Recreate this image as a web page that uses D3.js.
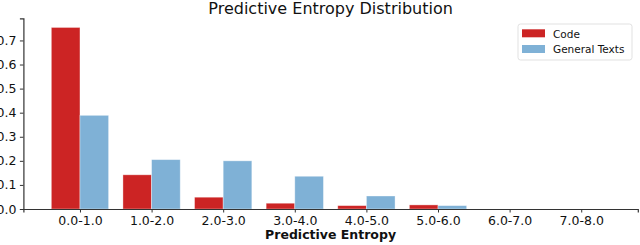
<!DOCTYPE html>
<html>
<head>
<meta charset="utf-8">
<script src="https://cdn.jsdelivr.net/npm/d3@7"></script>
<style>
  html, body { margin: 0; padding: 0; background: #fff; }
  svg { display: block; font-family: "DejaVu Sans", sans-serif; }
  .axis path, .axis line { stroke: #333; }
  .axis text { fill: #111; }
</style>
</head>
<body>
<svg id="plot"></svg>
<script>
var width = 640;
var height = 245;

var bins = ["0.0-1.0", "1.0-2.0", "2.0-3.0", "3.0-4.0", "4.0-5.0", "5.0-6.0", "6.0-7.0", "7.0-8.0"];
var codeValues = [0.754, 0.142, 0.049, 0.024, 0.014, 0.017, 0, 0];
var textValues = [0.389, 0.205, 0.200, 0.136, 0.054, 0.014, 0, 0];
var yTicks = [0, 0.1, 0.2, 0.3, 0.4, 0.5, 0.6, 0.7];
var seriesNames = ["Code", "General Texts"];
var colors = ["#cc2424", "#7fb1d6"];

var plotLeft = 23.4, plotRight = 637.8, plotTop = 18.3, plotBottom = 209;
var barW = 0.4;

var svg = d3.select("#plot")
    .attr("width", width)
    .attr("height", height);

var xScale = d3.scaleLinear()
    .domain([-0.79, bins.length - 1 + 0.79])
    .range([plotLeft, plotRight]);
var yScale = d3.scaleLinear()
    .domain([0, 0.792])
    .range([plotBottom, plotTop]);

var series = [codeValues, textValues];
series.forEach(function (vals, s) {
    svg.append("g")
        .selectAll("rect")
        .data(vals)
        .enter()
        .append("rect")
        .attr("x", function (d, i) { return xScale(i + (s - 1) * barW); })
        .attr("y", function (d) { return yScale(d); })
        .attr("width", function () { return xScale(barW) - xScale(0); })
        .attr("height", function (d) { return yScale(0) - yScale(d); })
        .attr("fill", colors[s])
        .attr("stroke", "rgba(255,255,255,0.45)")
        .attr("stroke-width", 0.8);
});

var xAxis = svg.append("g")
    .attr("class", "axis")
    .attr("transform", "translate(0," + plotBottom + ")")
    .call(d3.axisBottom(xScale)
        .tickValues(d3.range(bins.length))
        .tickFormat(function (d) { return bins[d]; })
        .tickSizeOuter(0)
        .tickSize(3.5)
        .tickPadding(3.5))
    .attr("font-family", "DejaVu Sans")
    .attr("font-size", 12.5);
xAxis.select(".domain").attr("stroke-width", 1.2);

var yAxis = svg.append("g")
    .attr("class", "axis")
    .attr("transform", "translate(" + plotLeft + ",0)")
    .call(d3.axisLeft(yScale)
        .tickValues(yTicks)
        .tickFormat(d3.format(".1f"))
        .tickSizeOuter(0)
        .tickSize(3.5)
        .tickPadding(3.5))
    .attr("font-family", "DejaVu Sans")
    .attr("font-size", 12.5);
yAxis.select(".domain").attr("stroke-width", 1.2);

svg.append("text")
    .attr("x", (plotLeft + plotRight) / 2)
    .attr("y", 13.5)
    .attr("text-anchor", "middle")
    .attr("font-size", "16px")
    .attr("fill", "#111")
    .text("Predictive Entropy Distribution");

svg.append("text")
    .attr("x", (plotLeft + plotRight) / 2)
    .attr("y", 239)
    .attr("text-anchor", "middle")
    .attr("font-size", "12.5px")
    .attr("font-weight", "bold")
    .attr("fill", "#111")
    .text("Predictive Entropy");

// legend
var legend = svg.append("g").attr("transform", "translate(518,24)");
legend.append("rect")
    .attr("width", 114)
    .attr("height", 36)
    .attr("rx", 2.5)
    .attr("fill", "#fff")
    .attr("stroke", "#d9d9d9")
    .attr("stroke-width", 0.8);
seriesNames.forEach(function (name, i) {
    legend.append("rect")
        .attr("x", 4)
        .attr("y", 5.3 + i * 15.7)
        .attr("width", 23)
        .attr("height", 8)
        .attr("fill", colors[i]);
    legend.append("text")
        .attr("x", 35)
        .attr("y", 13.5 + i * 15.7)
        .attr("font-size", "10.5px")
        .attr("fill", "#111")
        .text(name);
});
</script>
</body>
</html>
